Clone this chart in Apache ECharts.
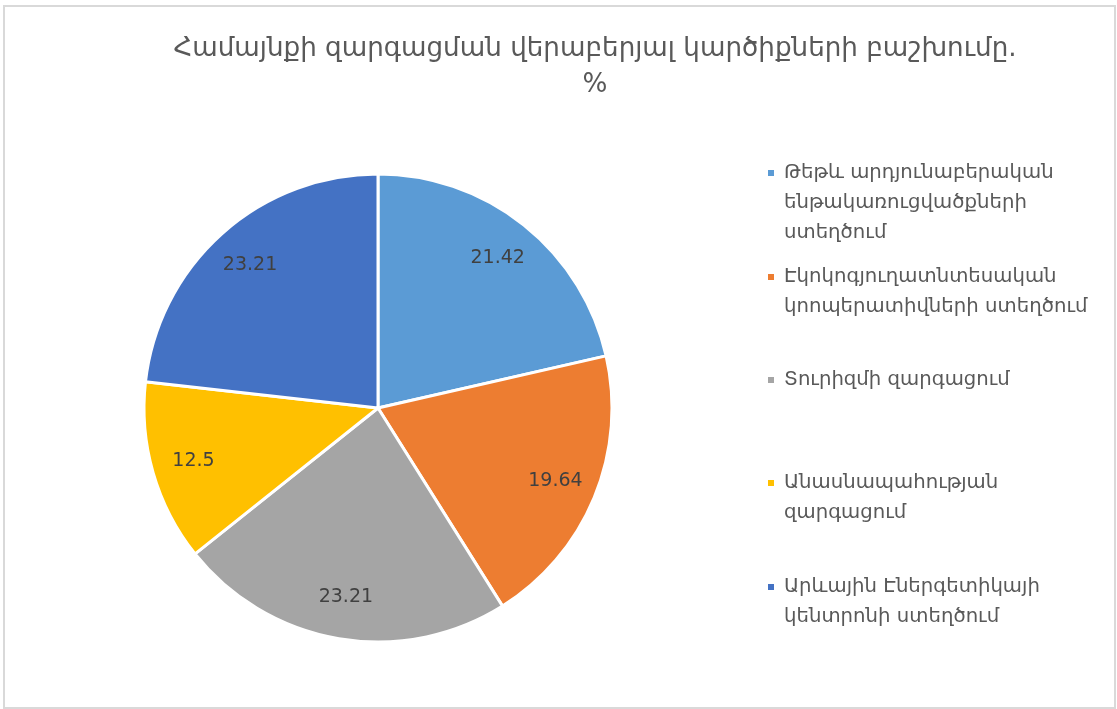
<!DOCTYPE html>
<html>
<head>
<meta charset="utf-8">
<script src="https://cdn.jsdelivr.net/npm/echarts@6/dist/echarts.min.js"></script>
<style>
  html, body { margin: 0; padding: 0; background: #ffffff; }
  #wrap { position: relative; width: 1117px; height: 709px; }
  #frame { position: absolute; left: 3px; top: 5px; width: 1109px; height: 700px; border: 2px solid #d9d9d9; box-sizing: content-box; pointer-events: none; }
  #chart { position: absolute; left: 0; top: 0; width: 1117px; height: 709px; }
</style>
</head>
<body>
<div id="wrap">
  <div id="chart"></div>
  <div id="frame"></div>
</div>
<script>
const titleText = 'Համայնքի զարգացման վերաբերյալ կարծիքների բաշխումը.\n%';
const categories = [
  'Թեթև արդյունաբերական ենթակառուցվածքների ստեղծում',
  'Էկոկոգյուղատնտեսական կոոպերատիվների ստեղծում',
  'Տուրիզմի զարգացում',
  'Անասնապահության զարգացում',
  'Արևային Էներգետիկայի կենտրոնի ստեղծում'
];
const legendLines = [
  ['Թեթև արդյունաբերական', 'ենթակառուցվածքների', 'ստեղծում'],
  ['Էկոկոգյուղատնտեսական', 'կոոպերատիվների ստեղծում'],
  ['Տուրիզմի զարգացում'],
  ['Անասնապահության', 'զարգացում'],
  ['Արևային Էներգետիկայի', 'կենտրոնի ստեղծում']
];
const values = [21.42, 19.64, 23.21, 12.5, 23.21];
const colors = ['#5B9BD5', '#ED7D31', '#A5A5A5', '#FFC000', '#4472C4'];

const FONT = 'DejaVu Sans';
const LH = 30;
const legendCenters = [173, 277, 380, 483, 587];

const chart = echarts.init(document.getElementById('chart'), null, { renderer: 'canvas' });

const pieData = categories.map((n, i) => ({ name: n, value: values[i], itemStyle: { color: colors[i] } }));
const labelData = categories.map((n, i) => ({ name: n, value: values[i] }));

const legends = categories.map((n, i) => {
  const k = legendLines[i].length;
  // pad with empty lines above so the first text line sits level with the marker
  const lines = new Array(k - 1).fill(' ').concat(legendLines[i]);
  return {
    show: true,
    data: [n],
    orient: 'vertical',
    left: 766,
    top: legendCenters[i] - (2 * k - 1) * LH / 2,
    padding: 0,
    itemWidth: 8,
    itemHeight: 8,
    icon: 'rect',
    selectedMode: false,
    formatter: () => lines.join('\n'),
    textStyle: {
      fontFamily: FONT,
      fontSize: 19.7,
      color: '#595959',
      lineHeight: LH,
      padding: [0, 0, 0, 4]
    }
  };
});

chart.setOption({
  animation: false,
  color: colors,
  title: {
    text: titleText,
    left: 595,
    top: 31,
    padding: 0,
    textAlign: 'center',
    textStyle: {
      fontFamily: FONT,
      fontSize: 26.2,
      fontWeight: 'normal',
      color: '#595959',
      lineHeight: 36
    }
  },
  legend: legends,
  series: [
    {
      type: 'pie',
      center: [378, 408],
      radius: [0, 234],
      startAngle: 90,
      clockwise: true,
      data: pieData,
      label: { show: false },
      labelLine: { show: false },
      itemStyle: { borderColor: '#ffffff', borderWidth: 3 },
      emphasis: { disabled: true }
    },
    {
      type: 'pie',
      center: [378, 408],
      radius: [0, 378],
      startAngle: 90,
      clockwise: true,
      silent: true,
      data: labelData,
      itemStyle: { color: 'rgba(0,0,0,0)', borderWidth: 0 },
      label: {
        show: true,
        position: 'inside',
        formatter: p => String(p.value),
        fontFamily: FONT,
        fontSize: 19,
        color: '#404040'
      },
      labelLine: { show: false },
      emphasis: { disabled: true }
    }
  ]
});
</script>
</body>
</html>
